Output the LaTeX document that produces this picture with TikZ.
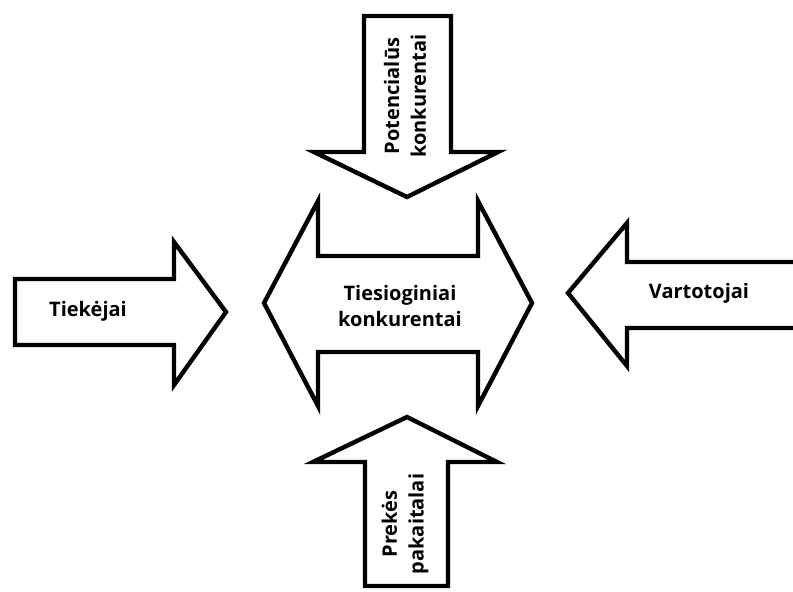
\documentclass[tikz,border=0pt]{standalone}
\usepackage{fontspec}
\setmainfont{Open Sans}
\usepackage{tikz}
\usetikzlibrary{positioning}

\begin{document}
\begin{tikzpicture}[
  x=0.75pt, y=-0.75pt,
  every node/.style={font=\fontsize{15}{20}\selectfont\bfseries, text=black},
  forcearrow/.style={draw=black, line width=3.3pt, fill=white, line join=miter},
  forcelabel/.style={align=center, inner sep=0pt},
]
\useasboundingbox (0,0) rectangle (793,592);

% === POTENCIALUS KONKURENTAI (top, pointing down) ===
\draw[forcearrow] (364,16) -- (451,16) -- (451,152) -- (498,152) -- (407,197)
  -- (314,152) -- (364,152) -- cycle;
\node[forcelabel, rotate=90] (potential) at (405,96) {Potencialūs\\konkurentai};

% === TIESIOGINIAI KONKURENTAI (centre, both ways) ===
\draw[forcearrow] (264,303) -- (318,201) -- (318,256) -- (478,256) -- (478,201)
  -- (532,303) -- (478,406) -- (478,352) -- (318,352) -- (318,406) -- cycle;
\node[forcelabel] (rivals) at (400,306) {Tiesioginiai\\konkurentai};

% === TIEKEJAI (left, pointing right) ===
\draw[forcearrow] (15,279) -- (174,279) -- (174,242) -- (226,312) -- (174,385)
  -- (174,345) -- (15,345) -- cycle;
\node[forcelabel] (suppliers) at (88,311) {Tiekėjai};

% === VARTOTOJAI (right, pointing left, cut by the edge) ===
\begin{scope}
  \clip (0,0) rectangle (793,592);
  \draw[forcearrow] (810,262) -- (627,262) -- (627,223) -- (568,293) -- (627,366)
    -- (627,328) -- (810,328);
\end{scope}
\node[forcelabel] (buyers) at (699,293) {Vartotojai};

% === PREKES PAKAITALAI (bottom, pointing up) ===
\draw[forcearrow] (407,417) -- (497,462) -- (448,462) -- (448,586) -- (365,586)
  -- (365,462) -- (313,462) -- cycle;
\node[forcelabel, rotate=90] (substitutes) at (405,524) {Prekės\\pakaitalai};

\end{tikzpicture}
\end{document}
